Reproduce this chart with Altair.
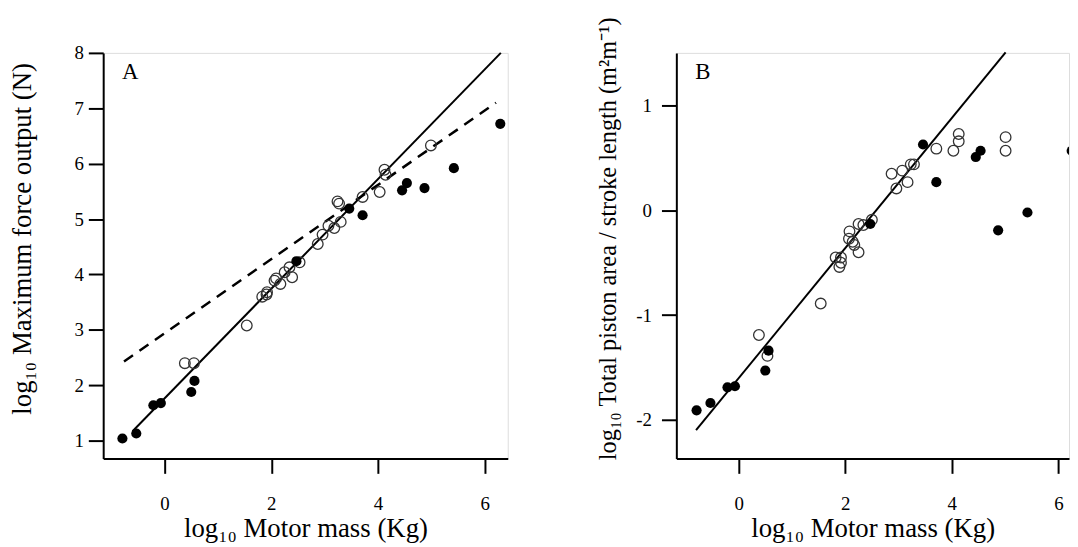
import altair as alt
import pandas as pd

# ---------------- Panel A data ----------------
a_filled_x = [-0.79, -0.53, -0.21, -0.07, 0.50, 0.56, 2.47, 3.46, 3.71, 4.45, 4.54, 4.87, 5.42, 6.29]
a_filled_y = [1.04, 1.13, 1.64, 1.68, 1.88, 2.08, 4.24, 5.19, 5.07, 5.52, 5.65, 5.56, 5.92, 6.72]
a_open_x = [0.38, 0.55, 1.54, 1.83, 1.91, 1.92, 2.06, 2.09, 2.17, 2.25, 2.34, 2.39, 2.53,
            2.87, 2.96, 3.07, 3.18, 3.30, 3.24, 3.27, 3.71, 4.03, 4.12, 4.14, 4.99]
a_open_y = [2.40, 2.40, 3.08, 3.60, 3.64, 3.68, 3.89, 3.93, 3.83, 4.04, 4.13, 3.95, 4.22,
            4.55, 4.72, 4.88, 4.84, 4.95, 5.32, 5.28, 5.40, 5.49, 5.89, 5.80, 6.33]
a_fit_x = [-0.60, 6.30]
a_fit_y = [1.17, 8.00]
a_dash_x = [-0.76, 6.21]
a_dash_y = [2.43, 7.10]

# ---------------- Panel B data ----------------
b_filled_x = [-0.79, -0.53, -0.21, -0.07, 0.50, 0.56, 2.47, 3.46, 3.71, 4.45, 4.54, 4.87, 5.42, 6.25]
b_filled_y = [-1.91, -1.84, -1.69, -1.68, -1.53, -1.34, -0.13, 0.63, 0.27, 0.51, 0.57, -0.19, -0.02, 0.57]
b_open_x = [0.38, 0.54, 1.54, 1.82, 1.89, 1.92, 1.92, 2.08, 2.07, 2.14, 2.17, 2.25, 2.25, 2.34,
            2.50, 2.87, 2.96, 3.07, 3.17, 3.23, 3.29, 3.71, 4.03, 4.13, 4.13, 5.01, 5.01]
b_open_y = [-1.19, -1.39, -0.89, -0.45, -0.54, -0.50, -0.45, -0.20, -0.27, -0.30, -0.33, -0.40,
            -0.13, -0.14, -0.09, 0.35, 0.21, 0.38, 0.27, 0.44, 0.44, 0.59, 0.57, 0.73, 0.66, 0.70, 0.57]
b_fit_x = [-0.80, 5.01]
b_fit_y = [-2.10, 1.51]

x_ticks = [0, 2, 4, 6]
a_y_ticks = [1, 2, 3, 4, 5, 6, 7, 8]
b_y_ticks = [-2, -1, 0, 1]

FONT = "Liberation Serif"
x_title = "log\u2081\u2080 Motor mass (Kg)"
a_y_title = "log\u2081\u2080 Maximum force output (N)"
b_y_title = "log\u2081\u2080 Total piston area / stroke length (m\u00b2m\u207b\u00b9)"

common_axis = dict(
    grid=False, domainColor="black", domainWidth=2, tickColor="black", tickWidth=2,
    tickSize=15, labelFont=FONT, labelFontSize=19, labelColor="black",
    titleFont=FONT, titleFontWeight="normal", titleColor="black", labelFlush=False,
)


def panel(fx, fy, ox, oy, lines, letter, xdom, ydom, yticks, ytitle, width, height,
          ytitle_pad, ytitle_y, ytitle_size, ylabel_pad):
    xs = alt.Scale(domain=xdom, zero=False, nice=False)
    ys = alt.Scale(domain=ydom, zero=False, nice=False)
    xax = alt.Axis(values=x_ticks, title=x_title, labelPadding=21, titleFontSize=27,
                   titlePadding=3, **common_axis)
    yax = alt.Axis(values=yticks, title=ytitle, labelPadding=ylabel_pad, titleFontSize=ytitle_size,
                   titlePadding=ytitle_pad, titleY=ytitle_y,
                   labelExpr="'' + datum.value", **common_axis)
    X = alt.X("x:Q", scale=xs, axis=xax)
    Y = alt.Y("y:Q", scale=ys, axis=yax)

    layers = []
    for lx, ly, dash in lines:
        df = pd.DataFrame({"x": lx, "y": ly})
        kw = dict(color="black", strokeWidth=2)
        if dash:
            kw["strokeDash"] = [11, 8]
            kw["strokeWidth"] = 2.5
        layers.append(alt.Chart(df).mark_line(**kw).encode(x=X, y=Y))

    open_df = pd.DataFrame({"x": ox, "y": oy})
    layers.append(alt.Chart(open_df).mark_point(shape="circle", filled=False, stroke="#333",
                                                 strokeWidth=1.3, size=115, opacity=1)
                  .encode(x=X, y=Y))
    fill_df = pd.DataFrame({"x": fx, "y": fy})
    layers.append(alt.Chart(fill_df).mark_circle(color="black", size=105, opacity=1, clip=True)
                  .encode(x=X, y=Y))
    lab = pd.DataFrame({"t": [letter]})
    layers.append(alt.Chart(lab).mark_text(font=FONT, fontSize=23, align="left",
                                           baseline="alphabetic", color="black")
                  .encode(text="t:N", x=alt.value(19), y=alt.value(26)))
    return alt.layer(*layers).properties(width=width, height=height)


chart_a = panel(a_filled_x, a_filled_y, a_open_x, a_open_y,
                [(a_fit_x, a_fit_y, False), (a_dash_x, a_dash_y, True)],
                "A", [-1.15, 6.43], [0.68, 8.0], a_y_ticks, a_y_title, 408, 409, 38, 187, 27, 5)
chart_b = panel(b_filled_x, b_filled_y, b_open_x, b_open_y,
                [(b_fit_x, b_fit_y, False)],
                "B", [-1.17, 6.20], [-2.37, 1.505], b_y_ticks, b_y_title, 396, 409, 16, 187, 24.5, 10)

chart = (alt.hconcat(chart_a, chart_b, spacing=86)
         .properties(padding={"left": 0, "top": 6, "right": 0, "bottom": 0})
         .configure_view(stroke=None)
         .configure(font=FONT))

chart.save("out.html", embed_options={"renderer": "svg", "actions": False})
